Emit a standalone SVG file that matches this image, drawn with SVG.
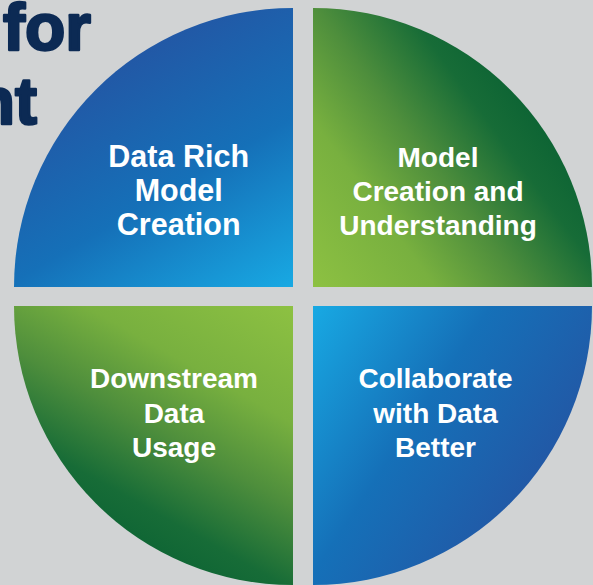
<svg xmlns="http://www.w3.org/2000/svg" width="593" height="585" viewBox="0 0 593 585">
  <defs>
    <linearGradient id="gTL" gradientUnits="userSpaceOnUse" x1="293" y1="287" x2="145" y2="35">
      <stop offset="0" stop-color="#18a9e3"/>
      <stop offset="0.5" stop-color="#1570b8"/>
      <stop offset="1" stop-color="#2356a4"/>
    </linearGradient>
    <linearGradient id="gBR" gradientUnits="userSpaceOnUse" x1="313" y1="306" x2="560" y2="470">
      <stop offset="0" stop-color="#18a9e3"/>
      <stop offset="0.5" stop-color="#1570b8"/>
      <stop offset="1" stop-color="#2356a4"/>
    </linearGradient>
    <linearGradient id="gTR" gradientUnits="userSpaceOnUse" x1="313" y1="287" x2="540" y2="120">
      <stop offset="0" stop-color="#8dc142"/>
      <stop offset="0.35" stop-color="#78b03f"/>
      <stop offset="0.6" stop-color="#4e8e3c"/>
      <stop offset="0.85" stop-color="#176c37"/>
      <stop offset="1" stop-color="#0d6434"/>
    </linearGradient>
    <linearGradient id="gBL" gradientUnits="userSpaceOnUse" x1="293" y1="306" x2="150" y2="560">
      <stop offset="0" stop-color="#8dc142"/>
      <stop offset="0.35" stop-color="#78b03f"/>
      <stop offset="0.6" stop-color="#4e8e3c"/>
      <stop offset="0.85" stop-color="#176c37"/>
      <stop offset="1" stop-color="#0d6434"/>
    </linearGradient>
  </defs>
  <style>
    .title { font-family: "Liberation Sans", Arial, sans-serif; font-weight: bold; font-size: 66px; fill: #0c2a54; stroke: #0c2a54; stroke-width: 2.5px; stroke-linejoin: round; }
    .lbl { font-family: "Liberation Sans", Arial, sans-serif; font-weight: bold; font-size: 28px; fill: #ffffff; text-anchor: middle; }
    .lbl-big { font-size: 30.5px; }
  </style>
  <rect x="0" y="0" width="593" height="585" fill="#d1d3d4"/>

  <text class="title" x="91" y="50" text-anchor="end">for</text>
  <text class="title" x="37" y="124" text-anchor="end">nt</text>

  <g id="node-data-rich">
    <path d="M293,287 L14,287 A279,279 0 0 1 293,8 Z" fill="url(#gTL)"/>
    <text class="lbl lbl-big" x="178.7" y="167">Data Rich</text>
    <text class="lbl lbl-big" x="178.7" y="201">Model</text>
    <text class="lbl lbl-big" x="178.7" y="235">Creation</text>
  </g>

  <g id="node-model-creation">
    <path d="M313,287 L313,8 A279,279 0 0 1 592,287 Z" fill="url(#gTR)"/>
    <text class="lbl" x="438" y="166.5">Model</text>
    <text class="lbl" x="438" y="200.5">Creation and</text>
    <text class="lbl" x="438" y="235">Understanding</text>
  </g>

  <g id="node-downstream">
    <path d="M293,306 L293,585 A279,279 0 0 1 14,306 Z" fill="url(#gBL)"/>
    <text class="lbl" x="174" y="388">Downstream</text>
    <text class="lbl" x="174" y="422.5">Data</text>
    <text class="lbl" x="174" y="456.5">Usage</text>
  </g>

  <g id="node-collaborate">
    <path d="M313,306 L592,306 A279,279 0 0 1 313,585 Z" fill="url(#gBR)"/>
    <text class="lbl" x="435.5" y="388">Collaborate</text>
    <text class="lbl" x="435.5" y="422.5">with Data</text>
    <text class="lbl" x="435.5" y="456.5">Better</text>
  </g>

  <g id="connectors"/>
</svg>
